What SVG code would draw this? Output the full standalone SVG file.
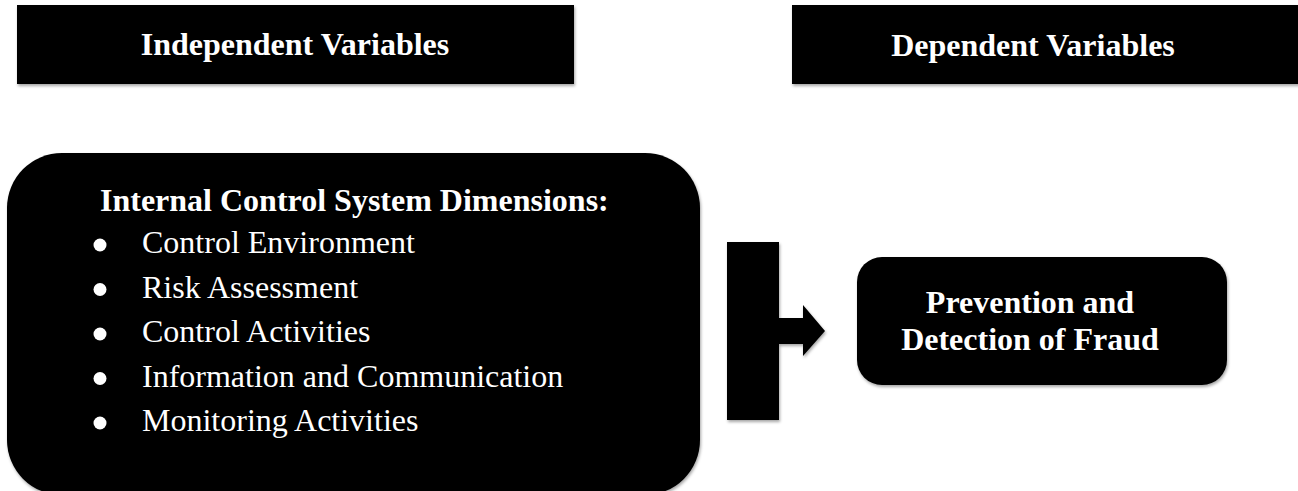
<svg xmlns="http://www.w3.org/2000/svg" width="1298" height="491" viewBox="0 0 1298 491">
<style>
.box{fill:#000;filter:url(#sh);}
.h{font-family:"Liberation Serif","Times New Roman",serif;font-weight:bold;font-size:32px;fill:#fff;}
.t{font-family:"Liberation Serif","Times New Roman",serif;font-size:32px;fill:#fff;}
.b{fill:#fff;}
</style>
<defs>
<filter id="sh" x="-5%" y="-5%" width="110%" height="115%">
<feDropShadow dx="1" dy="2" stdDeviation="1.5" flood-color="#000" flood-opacity="0.35"/>
</filter>
</defs>
<rect width="1298" height="491" fill="#fff"/>
<g id="independent-header">
<rect class="box" x="17" y="5" width="557" height="79"/>
<text class="h" x="295" y="55" text-anchor="middle">Independent Variables</text>
</g>
<g id="dependent-header">
<rect class="box" x="792" y="5" width="510" height="79"/>
<text class="h" x="1033" y="56" text-anchor="middle">Dependent Variables</text>
</g>
<g id="ics-dimensions">
<rect class="box" x="7" y="153" width="693" height="342" rx="55" ry="55"/>
<text class="h" x="100" y="211">Internal Control System Dimensions:</text>
<circle class="b" cx="100" cy="245" r="6.5"/>
<text class="t" x="142" y="253">Control Environment</text>
<circle class="b" cx="100" cy="289.5" r="6.5"/>
<text class="t" x="142" y="297.5">Risk Assessment</text>
<circle class="b" cx="100" cy="334" r="6.5"/>
<text class="t" x="142" y="342">Control Activities</text>
<circle class="b" cx="100" cy="378.5" r="6.5"/>
<text class="t" x="142" y="386.5">Information and Communication</text>
<circle class="b" cx="100" cy="423" r="6.5"/>
<text class="t" x="142" y="431">Monitoring Activities</text>
</g>
<g id="connectors">
<path class="box" d="M727,242 H779 V318 H803 V305 L825,331 L803,356 V344 H779 V420 H727 Z"/>
</g>
<g id="fraud">
<rect class="box" x="857" y="257" width="370" height="128" rx="25" ry="25"/>
<text class="h" x="1030" y="313" text-anchor="middle">Prevention and</text>
<text class="h" x="1030" y="350" text-anchor="middle">Detection of Fraud</text>
</g>
</svg>
